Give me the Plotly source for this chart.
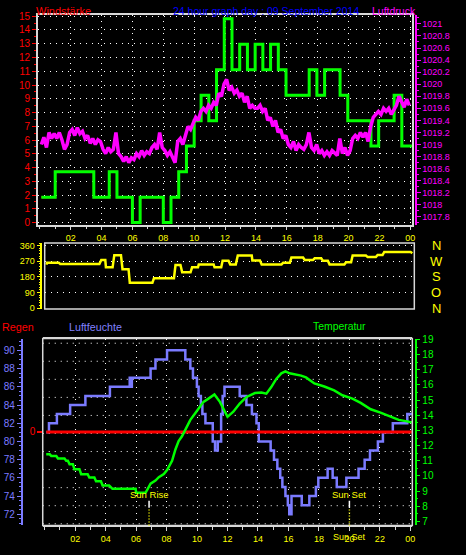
import plotly.graph_objects as go

# ---------------- data ----------------
hour_ticks = [2, 4, 6, 8, 10, 12, 14, 16, 18, 20, 22, 24]
hour_labels = ["02", "04", "06", "08", "10", "12", "14", "16", "18", "20", "22", "00"]

# wind (km/h), step series
wind_t = [0.1, 1.0, 3.5, 4.5, 5.0, 6.0, 6.5, 8.0, 8.5, 9.0, 9.5, 10.0, 10.45, 10.95, 11.45,
          11.95, 12.45, 12.95, 13.45, 13.95, 14.45, 14.95, 15.45, 15.95, 17.45, 17.95, 18.45,
          19.45, 19.95, 21.45, 21.95, 22.95, 23.45, 24.1]
wind_kmh = [1.85, 3.7, 1.85, 3.7, 1.85, 0, 1.85, 0, 1.85, 3.7, 5.56, 7.41, 9.26, 7.41, 11.11,
            14.82, 11.11, 12.96, 11.11, 12.96, 11.11, 12.96, 11.11, 9.26, 11.11, 9.26, 11.11,
            9.26, 7.41, 5.56, 7.41, 9.26, 5.56, 5.56]

# pressure (hPa), 10-minute samples starting 00:06
p_start, p_step = 0.1, 1 / 6
pressure = [
    1019.0, 1019.12, 1018.95, 1019.2, 1019.1, 1019.18,
    1019.1, 1019.2, 1019.08, 1018.92, 1019.0, 1019.2,
    1019.25, 1019.15, 1019.28, 1019.18, 1019.22, 1019.1,
    1019.15, 1019.02, 1019.1, 1019.0, 1019.08, 1019.05,
    1018.92, 1018.85, 1018.95, 1018.88, 1018.92, 1019.2,
    1018.85, 1018.8, 1018.72, 1018.8, 1018.7, 1018.78,
    1018.75, 1018.85, 1018.8, 1018.9, 1018.82, 1018.88,
    1018.85, 1018.95, 1019.0, 1018.92, 1019.2, 1018.95,
    1018.9, 1018.82, 1018.88, 1018.8, 1018.7, 1019.05,
    1019.1, 1019.0, 1019.15, 1019.3, 1019.25, 1019.35,
    1019.45, 1019.4, 1019.55, 1019.6, 1019.55, 1019.65,
    1019.6, 1019.7, 1019.65, 1019.85, 1019.8, 1020.0,
    1020.08, 1019.9, 1019.95, 1019.85, 1019.9, 1019.8,
    1019.85, 1019.7, 1019.8, 1019.6, 1019.65, 1019.6,
    1019.6, 1019.65, 1019.55, 1019.6, 1019.4, 1019.45,
    1019.3, 1019.4, 1019.2, 1019.25, 1019.1, 1019.15,
    1019.0, 1018.95, 1019.05, 1018.9, 1019.0, 1018.95,
    1018.92, 1019.0, 1019.2, 1018.95, 1018.9, 1019.0,
    1018.85, 1018.9, 1018.82, 1018.88, 1018.82, 1018.9,
    1018.85, 1018.82, 1019.1, 1018.85, 1018.95, 1018.82,
    1018.9, 1019.1, 1019.15, 1019.1, 1019.2, 1019.12,
    1019.2, 1019.05, 1019.3, 1019.45, 1019.5, 1019.55,
    1019.5, 1019.6, 1019.55, 1019.6, 1019.5, 1019.58,
    1019.65, 1019.8, 1019.7, 1019.62, 1019.75, 1019.65,
]
pressure_t = [p_start + i * p_step for i in range(len(pressure))]
p_ticks = [1017.8, 1018.0, 1018.2, 1018.4, 1018.6, 1018.8, 1019.0, 1019.2, 1019.4, 1019.6,
           1019.8, 1020.0, 1020.2, 1020.4, 1020.6, 1020.8, 1021.0]
p_labels = ["1017.8", "1018", "1018.2", "1018.4", "1018.6", "1018.8", "1019", "1019.2", "1019.4",
            "1019.6", "1019.8", "1020", "1020.2", "1020.4", "1020.6", "1020.8", "1021"]

# wind direction (degrees)
dir_t = [0.46, 0.5, 1.25, 1.35, 3.88, 4.0, 4.26, 4.3, 4.73, 4.84, 5.27, 5.37, 5.76, 5.84, 7.3,
         7.4, 8.69, 8.79, 9.11, 9.22, 9.76, 9.86, 10.24, 10.29, 11.25, 11.31, 11.74, 11.83,
         12.21, 12.32, 12.68, 12.81, 13.71, 13.75, 14.24, 14.35, 15.63, 15.74, 16.17, 16.27,
         17.02, 17.13, 17.66, 17.77, 18.19, 18.3, 18.62, 18.73, 19.69, 19.8, 20.12, 20.22,
         21.08, 21.19, 21.72, 21.83, 22.15, 22.26, 23.96, 24.07]
dir_deg = [250, 262, 262, 254, 254, 277, 277, 235, 235, 305, 305, 224, 224, 146, 146,
           172, 172, 248, 248, 206, 206, 235, 235, 252, 252, 235, 235, 273,
           273, 252, 252, 303, 303, 275, 275, 252, 252, 262, 262, 292,
           292, 277, 277, 287, 287, 273, 273, 252, 252, 264, 264, 303,
           303, 294, 294, 306, 306, 324, 324, 316]
dir_ticks = [0, 90, 180, 270, 360]
compass_labels = ["N", "W", "S", "O", "N"]
compass_ticks = [360, 270, 180, 90, 0]

# humidity (%), step series
hum_t = [0.1, 0.28, 0.8, 1.67, 2.67, 4.28, 5.58, 5.65, 5.72, 6.95, 7.27, 8.03, 9.23, 9.56, 9.73,
         9.99, 10.1, 10.25, 10.35, 10.55, 11.03, 11.18, 11.36, 11.58, 11.68, 11.8, 12.8, 13.24,
         13.6, 13.9, 14.05, 14.83, 15.05, 15.27, 15.46, 15.6, 15.8, 15.96, 16.05, 16.2, 16.87,
         17.37, 17.8, 17.96, 18.57, 18.9, 19.17, 19.8, 20.6, 21.0, 21.35, 21.87, 22.2, 22.85,
         23.8, 24.1]
humidity = [81, 82, 83, 84, 85, 86, 87, 86, 87, 88, 89, 90, 89, 88, 87,
            86, 85, 84, 83, 82, 80, 79, 80, 83, 85, 86, 85, 84,
            83, 82, 80, 79, 78, 77, 76, 75, 74, 73, 72, 74, 73,
            74, 75, 76, 77, 76, 75, 76, 77, 78, 79, 80, 81, 82,
            83, 83]
hum_ticks = [72, 74, 76, 78, 80, 82, 84, 86, 88, 90]

# temperature (°C)
temp_t = [0.1, 0.33, 0.43, 0.76, 0.87, 1.3, 1.41, 1.52, 1.63, 1.85, 1.95, 2.28, 2.39, 2.82,
          2.93, 3.26, 3.37, 3.69, 3.8, 4.23, 4.45, 5.97, 6.0, 6.62, 6.95, 7.27, 7.49, 7.82,
          8.03, 8.25, 8.36, 8.58, 8.79, 9.01, 9.23, 9.56, 9.88, 10.2, 10.42, 10.75, 11.14,
          11.5, 11.84, 12.0, 12.38, 12.8, 13.25, 13.8, 14.22, 14.55, 14.87, 15.2, 15.53,
          15.8, 16.07, 16.83, 17.15, 17.7, 18.35, 19.0, 19.54, 20.2, 20.74, 21.4, 22.04,
          22.7, 23.24, 23.78, 24.1]
temperature = [11.43, 11.43, 11.32, 11.32, 11.15, 11.15, 11.0, 11.0, 10.78, 10.78, 10.45,
               10.45, 10.12, 10.12, 9.9, 9.9, 9.65, 9.65, 9.37, 9.37, 9.15, 9.15, 8.89, 8.89,
               9.49, 9.7, 9.92, 10.13, 10.39, 10.78, 11.0, 11.75, 12.3, 12.62, 13.05, 13.7,
               14.13, 14.56, 14.89, 15.1, 15.38, 14.89, 14.24, 13.9, 14.24, 14.78, 15.21,
               15.47, 15.5, 15.43, 15.86, 16.4, 16.77, 16.9, 16.77, 16.62, 16.5, 16.1, 15.9,
               15.64, 15.32, 15.1, 14.82, 14.4, 14.18, 13.9, 13.7, 13.6, 13.53]
temp_ticks = list(range(7, 20))

# rain (mm)
rain_t = [0.1, 24.1]
rain = [0, 0]

sunrise, sunset = 6.85, 20.0

# ---------------- layout helpers ----------------
W, H = 466, 555


def fx(x):
    return x / W


def fy(y):
    return 1 - y / H


FONT = "Liberation Sans, Arial, sans-serif"
TS = 9  # tick label size
DOT = "1px,5px"
GRID = dict(showgrid=True, gridcolor="#ffffff", gridwidth=1, griddash=DOT)
FRAME = "#d8d8d8"
YEL = "#ffff00"
MAG = "#ff00ff"
RED = "#ff0000"
GRN = "#00ff00"
BLU = "#7b7bff"


def minor(dtick, tick0, color, length=2):
    return dict(tickmode="linear", tick0=tick0, dtick=dtick, ticks="outside", ticklen=length,
                tickcolor=color, showgrid=False)


fig = go.Figure()

# top panel
fig.add_trace(go.Scatter(x=wind_t, y=wind_kmh, mode="lines", line=dict(color=RED, width=2, shape="hv"),
                         xaxis="x", yaxis="y", hoverinfo="skip"))
fig.add_trace(go.Scatter(x=wind_t, y=wind_kmh, mode="lines", line=dict(color=GRN, width=3, shape="hv"),
                         xaxis="x", yaxis="y", hoverinfo="skip"))
fig.add_trace(go.Scatter(x=pressure_t, y=pressure, mode="lines", line=dict(color=MAG, width=3.5),
                         xaxis="x", yaxis="y2", hoverinfo="skip"))
# middle panel
fig.add_trace(go.Scatter(x=dir_t, y=dir_deg, mode="lines", line=dict(color=YEL, width=2.5),
                         xaxis="x2", yaxis="y3", hoverinfo="skip"))
# bottom panel
fig.add_trace(go.Scatter(x=hum_t, y=humidity, mode="lines", line=dict(color=BLU, width=2.5, shape="hv"),
                         xaxis="x3", yaxis="y4", hoverinfo="skip"))
fig.add_trace(go.Scatter(x=temp_t, y=temperature, mode="lines", line=dict(color=GRN, width=2.5),
                         xaxis="x3", yaxis="y6", hoverinfo="skip"))
fig.add_trace(go.Scatter(x=rain_t, y=rain, mode="lines", line=dict(color=RED, width=3),
                         xaxis="x3", yaxis="y5", hoverinfo="skip"))

tickfont_y = dict(color=YEL, size=TS, family=FONT)
TOP_D = [fy(224), fy(10)]
MID_D = [fy(309), fy(242)]
BOT_D = [fy(529), fy(339)]

fig.update_layout(
    width=W, height=H, autosize=False,
    margin=dict(l=0, r=0, t=0, b=0),
    paper_bgcolor="#000000", plot_bgcolor="#000000",
    showlegend=False,
    font=dict(family=FONT, size=TS, color="#ffffff"),
    # ---- top panel
    xaxis=dict(domain=[fx(38), fx(415)], range=[-0.13, 24.13], anchor="y",
               tickmode="array", tickvals=hour_ticks, ticktext=hour_labels, tickfont=tickfont_y,
               ticks="outside", ticklen=3, tickcolor=FRAME, minor=minor(1, 0, FRAME),
               showline=True, linecolor=FRAME, linewidth=1.5, mirror=True, zeroline=False, **GRID),
    yaxis=dict(domain=TOP_D, range=[-0.2, 15.1], anchor="x",
               tickmode="linear", tick0=0, dtick=1, tickfont=dict(color=RED, size=TS + 1, family=FONT),
               ticks="outside", ticklen=4, tickcolor=RED, minor=minor(0.5, 0, RED),
               showline=True, linecolor=FRAME, linewidth=1.5, mirror=True, zeroline=False, **GRID),
    yaxis2=dict(overlaying="y", side="right", anchor="free", position=fx(418.5), domain=TOP_D,
                range=[1017.66, 1021.15], tickmode="array", tickvals=p_ticks, ticktext=p_labels,
                tickfont=dict(color=MAG, size=TS, family=FONT), ticks="outside", ticklen=4, tickcolor=MAG,
                minor=minor(0.1, 1017.7, MAG),
                showline=True, linecolor=MAG, linewidth=1.5, showgrid=False, zeroline=False),
    # ---- middle panel
    xaxis2=dict(domain=[fx(45), fx(417)], range=[0.35, 24.2], anchor="y3",
                showticklabels=False, ticks="", showgrid=False, zeroline=False, showline=False),
    yaxis3=dict(domain=MID_D, range=[-5.7, 375], anchor="free", position=fx(41.7), side="left",
                tickmode="array", tickvals=dir_ticks, tickfont=tickfont_y,
                ticks="outside", ticklen=4, tickcolor=YEL, minor=minor(15, 0, YEL),
                showline=True, linecolor=YEL, linewidth=1.5, zeroline=False, **GRID),
    # ---- bottom panel
    xaxis3=dict(domain=[fx(43), fx(415)], range=[-0.13, 24.13], anchor="y4",
                tickmode="array", tickvals=hour_ticks, ticktext=hour_labels, tickfont=tickfont_y,
                ticks="outside", ticklen=4, tickcolor=FRAME, minor=minor(1, 0, FRAME, 3),
                showline=True, linecolor=FRAME, linewidth=1.5, mirror=True, zeroline=False, **GRID),
    yaxis4=dict(domain=BOT_D, anchor="free", position=fx(22), side="left", range=[70.78, 91.3],
                tickmode="array", tickvals=hum_ticks, tickfont=dict(color=BLU, size=TS + 1, family=FONT),
                ticks="outside", ticklen=4, tickcolor=BLU, minor=minor(0.5, 70, BLU),
                showline=True, linecolor=BLU, linewidth=2, showgrid=False, zeroline=False),
    yaxis5=dict(overlaying="y4", side="left", anchor="free", position=fx(42.7), domain=BOT_D, range=[-1, 1],
                tickmode="array", tickvals=[0], tickfont=dict(color=RED, size=TS + 1, family=FONT),
                ticks="outside", ticklen=5, tickcolor=RED, tickwidth=1.5,
                showline=False, showgrid=False, zeroline=False),
    yaxis6=dict(overlaying="y4", side="right", anchor="free", position=fx(418.3), domain=BOT_D,
                range=[6.74, 19.065],
                tickmode="array", tickvals=temp_ticks, tickfont=dict(color=GRN, size=TS + 1, family=FONT),
                ticks="outside", ticklen=4, tickcolor=GRN, minor=minor(0.5, 7, GRN),
                showline=True, linecolor=GRN, linewidth=1.5, showgrid=False, zeroline=False),
)

# frames for middle and bottom panels
for (x0, y0, x1, y1) in [(45, 242, 417, 309), (43, 339, 415, 529)]:
    fig.add_shape(type="rect", xref="paper", yref="paper", x0=fx(x0), x1=fx(x1), y0=fy(y1), y1=fy(y0),
                  line=dict(color=FRAME, width=1.5), fillcolor="rgba(0,0,0,0)", layer="above")

# horizontal dotted grid of bottom panel (independent of both value axes)
for k in range(11):
    yy = 527.3 - 18.35 * k
    fig.add_shape(type="line", xref="paper", yref="paper", x0=fx(43), x1=fx(415), y0=fy(yy), y1=fy(yy),
                  line=dict(color="#ffffff", width=1, dash=DOT), layer="below")

# compass letters next to direction panel
for v, s in zip(compass_ticks, compass_labels):
    fig.add_annotation(text=s, x=fx(439), y=v, xref="paper", yref="y3", xanchor="center", yanchor="middle",
                       showarrow=False, font=dict(color=YEL, size=13, family=FONT))


def label(text, x, y, color, size=11, xanchor="left"):
    fig.add_annotation(text=text, x=fx(x), y=fy(y), xref="paper", yref="paper",
                       xanchor=xanchor, yanchor="middle", showarrow=False,
                       font=dict(color=color, size=size, family=FONT))


label("Windstärke", 34, 6, RED, 11)
label("24 hour graph day : 09 September 2014", 172, 6, "#0000ff", 10.5)
label("Luftdruck", 372, 6, MAG, 10.5)
label("Regen", 0, 327, RED, 10.8)
label("Luftfeuchte", 67, 327, "#8080ff", 10.7)
label("Temperatur", 313, 327, GRN, 10.4)

for t, name in [(sunrise, "Sun Rise"), (sunset, "Sun Set")]:
    fig.add_annotation(text=name, x=t, y=fy(498), xref="x3", yref="paper", xanchor="center",
                       yanchor="middle", showarrow=False, font=dict(color=YEL, size=TS + 0.5, family=FONT))
    fig.add_shape(type="line", x0=t, x1=t, y0=fy(511), y1=fy(504), xref="x3", yref="paper",
                  line=dict(color="#ffffff", width=1.5))
    fig.add_shape(type="line", x0=t, x1=t, y0=fy(529), y1=fy(511), xref="x3", yref="paper",
                  line=dict(color=YEL, width=1.5, dash="1px,2px"))

fig.add_annotation(text="Sun Set", x=sunset, y=fy(541), xref="x3", yref="paper", xanchor="center",
                   yanchor="middle", showarrow=False, font=dict(color=YEL, size=TS, family=FONT))

fig.write_html("out.html", config={"displayModeBar": False},
               post_script="document.body.style.margin='0';document.body.style.overflow='hidden';")
